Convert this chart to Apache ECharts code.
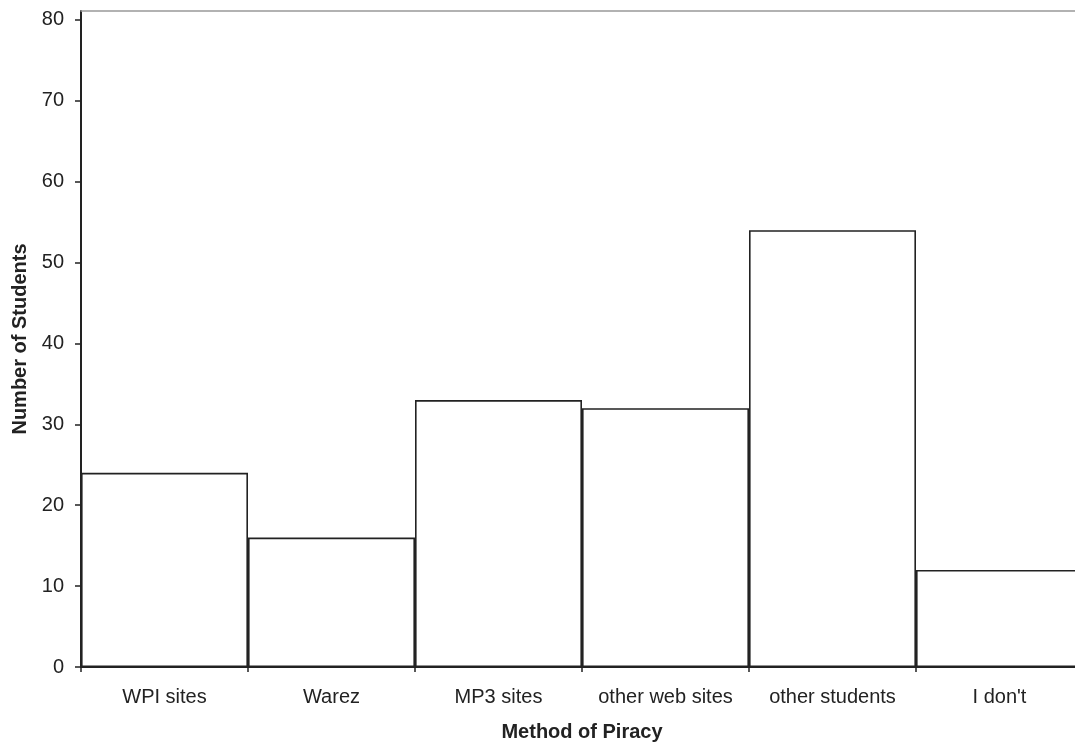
<!DOCTYPE html>
<html>
<head>
<meta charset="utf-8">
<title>Method of Piracy</title>
<script src="https://cdn.jsdelivr.net/npm/echarts@6/dist/echarts.min.js"></script>
<style>
  html, body { margin: 0; padding: 0; background: #fff; }
  #chart { width: 1075px; height: 743px; }
</style>
</head>
<body>
<div id="chart"></div>
<script>
// Survey: where students obtain pirated material
const categories = ['WPI sites', 'Warez', 'MP3 sites', 'other web sites', 'other students', "I don't"];
const students = [24, 16, 33, 32, 54, 12];
const yTicks = [0, 10, 20, 30, 40, 50, 60, 70, 80];

const ink = '#222';
const font = '"Liberation Sans", Arial, sans-serif';

const chart = echarts.init(document.getElementById('chart'), null, { renderer: 'canvas' });

chart.setOption({
  animation: false,
  backgroundColor: '#fff',
  grid: { left: 81, top: 11, right: -8, bottom: 76, containLabel: false, outerBoundsMode: 'none' },
  xAxis: [
    {
      type: 'category',
      data: categories,
      boundaryGap: true,
      position: 'bottom',
      name: 'Method of Piracy',
      nameLocation: 'middle',
      nameGap: 55,
      nameTextStyle: { fontFamily: font, fontSize: 20, fontWeight: 'bold', color: ink },
      axisLine: { show: true, lineStyle: { color: ink, width: 2 } },
      axisTick: { show: true, interval: 0, length: 5, lineStyle: { color: ink, width: 1.5 } },
      axisLabel: { interval: 0, margin: 20, fontFamily: font, fontSize: 20, color: ink },
      splitLine: { show: false }
    },
    {
      // plot frame along the top
      type: 'category',
      data: categories,
      position: 'top',
      axisLine: { show: true, lineStyle: { color: '#999', width: 1.5 } },
      axisTick: { show: false },
      axisLabel: { show: false },
      splitLine: { show: false }
    }
  ],
  yAxis: {
    type: 'value',
    min: 0,
    max: 81.1,
    interval: 10,
    name: 'Number of Students',
    nameLocation: 'middle',
    nameGap: 50,
    nameRotate: 90,
    nameTextStyle: { fontFamily: font, fontSize: 20, fontWeight: 'bold', color: ink },
    axisLine: { show: true, lineStyle: { color: ink, width: 2 } },
    axisTick: { show: true, length: 6, customValues: yTicks, lineStyle: { color: ink, width: 1.5 } },
    axisLabel: { margin: 17, fontFamily: font, fontSize: 20, color: ink, customValues: yTicks },
    splitLine: { show: false }
  },
  series: [
    {
      type: 'bar',
      data: students,
      barWidth: '100%',
      barGap: '0%',
      itemStyle: { color: '#fff', borderColor: ink, borderWidth: 1.6 },
      z: 3
    }
  ]
});
</script>
</body>
</html>
